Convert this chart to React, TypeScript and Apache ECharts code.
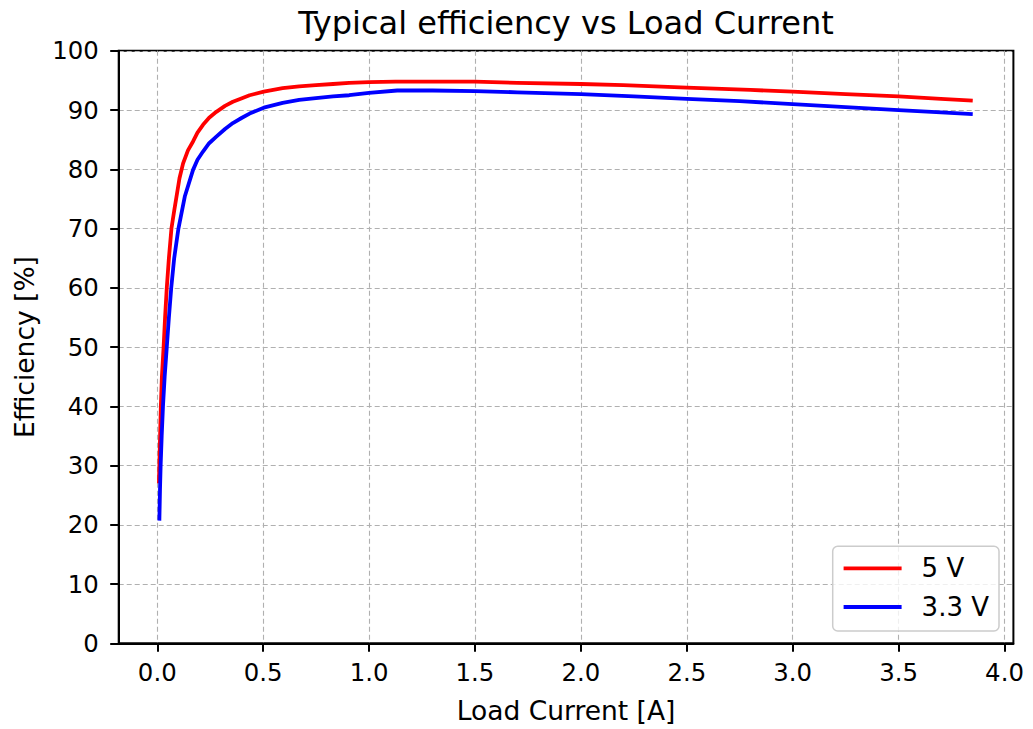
import React, { useEffect, useRef } from "react";
import * as echarts from "echarts";

const titleText = "Typical efficiency vs Load Current";
const xAxisTitle = "Load Current [A]";
const yAxisTitle = "Efficiency [%]";
const seriesNames = ["5 V", "3.3 V"];

const xTicks = [0, 0.5, 1.0, 1.5, 2.0, 2.5, 3.0, 3.5, 4.0];

const current5V = [0.008, 0.012, 0.017, 0.022, 0.03, 0.037, 0.045, 0.055, 0.067, 0.08, 0.091, 0.105, 0.122, 0.145, 0.169, 0.19, 0.216, 0.245, 0.279, 0.32, 0.357, 0.4, 0.436, 0.503, 0.592, 0.67, 0.749, 0.83, 0.906, 1.0, 1.125, 1.3, 1.5, 1.7, 2.0, 2.2, 2.5, 2.8, 3.0, 3.25, 3.5, 3.7, 3.85];
const eff5V = [27, 33, 40, 45, 50, 55, 60, 65, 70, 73, 75.4, 78.5, 81, 83.2, 84.7, 86.2, 87.5, 88.7, 89.7, 90.7, 91.4, 92.0, 92.5, 93.1, 93.7, 94.0, 94.2, 94.4, 94.6, 94.7, 94.8, 94.8, 94.8, 94.6, 94.4, 94.2, 93.8, 93.4, 93.1, 92.7, 92.3, 91.9, 91.6];

const current33V = [0.01, 0.013, 0.016, 0.021, 0.027, 0.035, 0.045, 0.055, 0.066, 0.08, 0.1, 0.13, 0.169, 0.19, 0.216, 0.245, 0.279, 0.32, 0.357, 0.4, 0.436, 0.503, 0.592, 0.67, 0.749, 0.83, 0.906, 1.0, 1.133, 1.3, 1.5, 1.7, 2.0, 2.25, 2.5, 2.75, 3.0, 3.25, 3.5, 3.7, 3.85];
const eff33V = [20.7, 26, 30, 35, 40, 45, 50, 55, 60, 65, 70, 75.4, 79.9, 81.6, 83.0, 84.4, 85.5, 86.8, 87.8, 88.7, 89.4, 90.4, 91.2, 91.7, 92.0, 92.3, 92.5, 92.9, 93.3, 93.3, 93.2, 93.0, 92.7, 92.3, 91.9, 91.5, 91.0, 90.5, 90.0, 89.6, 89.3];

const FONT = "DejaVu Sans";

export default function App() {
  const ref = useRef<HTMLDivElement>(null);
  useEffect(() => {
    if (!ref.current) return;
    const chart = echarts.init(ref.current, undefined, { renderer: "svg" });
    const gridLeft = 118.7;
    const gridRight = 1013.4;
    const gridTop = 50.8;
    const gridBottom = 643.3;
    const splitLine = {
      show: true,
      lineStyle: { color: "#b0b0b0", width: 1.1, type: [5, 3] as any },
    };
    chart.setOption({
      animation: false,
      backgroundColor: "#ffffff",
      grid: {
        left: gridLeft,
        top: gridTop,
        right: 1033 - gridRight,
        bottom: 729 - gridBottom,
        show: true,
        borderColor: "#000000",
        borderWidth: 2,
        backgroundColor: "transparent",
      },
      xAxis: {
        type: "value",
        min: -0.182,
        max: 4.042,
        axisLine: { show: true, onZero: false, lineStyle: { color: "#000", width: 2 } },
        axisTick: { show: true, length: 8.5, inside: false, customValues: xTicks, lineStyle: { color: "#000", width: 2 } },
        axisLabel: {
          show: true,
          customValues: xTicks,
          formatter: (v: number) => v.toFixed(1),
          fontFamily: FONT,
          fontSize: 24.4,
          color: "#000",
          margin: 17,
        },
        splitLine,
      },
      yAxis: {
        type: "value",
        min: 0,
        max: 100,
        interval: 10,
        axisLine: { show: true, onZero: false, lineStyle: { color: "#000", width: 2 } },
        axisTick: { show: true, length: 8.5, inside: false, lineStyle: { color: "#000", width: 2 } },
        axisLabel: {
          fontFamily: FONT,
          fontSize: 24.4,
          color: "#000",
          margin: 20,
        },
        splitLine,
      },
      legend: {
        data: seriesNames,
        orient: "vertical",
        right: 34,
        bottom: 98,
        itemWidth: 58,
        itemHeight: 26,
        itemGap: 12.7,
        padding: [9, 10, 11, 9],
        backgroundColor: "rgba(255,255,255,0.8)",
        borderColor: "#cccccc",
        borderWidth: 1.5,
        borderRadius: 5,
        itemStyle: { color: "transparent", borderWidth: 0, opacity: 0 },
        lineStyle: { width: 3.8 },
        textStyle: {
          fontFamily: FONT,
          fontSize: 26,
          color: "#000",
          padding: [0, 0, 0, 15],
        },
      },
      graphic: [
        {
          type: "text",
          x: (gridLeft + gridRight) / 2,
          y: 23,
          style: {
            text: titleText,
            fontFamily: FONT,
            fontSize: 32,
            fill: "#000",
            align: "center",
            verticalAlign: "middle",
          },
        },
        {
          type: "text",
          x: (gridLeft + gridRight) / 2,
          y: 710,
          style: {
            text: xAxisTitle,
            fontFamily: FONT,
            fontSize: 26.5,
            fill: "#000",
            align: "center",
            verticalAlign: "middle",
          },
        },
        {
          type: "text",
          x: 24,
          y: (gridTop + gridBottom) / 2,
          rotation: Math.PI / 2,
          style: {
            text: yAxisTitle,
            fontFamily: FONT,
            fontSize: 26.5,
            fill: "#000",
            align: "center",
            verticalAlign: "middle",
          },
        },
      ],
      series: [
        {
          name: seriesNames[0],
          type: "line",
          data: current5V.map((x, i) => [x, eff5V[i]]),
          symbol: "none",
          smooth: false,
          lineStyle: { color: "#ff0000", width: 3.8, join: "round" },
          itemStyle: { color: "#ff0000" },
          clip: true,
        },
        {
          name: seriesNames[1],
          type: "line",
          data: current33V.map((x, i) => [x, eff33V[i]]),
          symbol: "none",
          smooth: false,
          lineStyle: { color: "#0000ff", width: 3.8, join: "round" },
          itemStyle: { color: "#0000ff" },
          clip: true,
        },
      ],
    });
    return () => chart.dispose();
  }, []);
  return (
    <div
      ref={ref}
      style={{ position: "fixed", left: 0, top: 0, width: 1033, height: 729, background: "#fff" }}
    />
  );
}
